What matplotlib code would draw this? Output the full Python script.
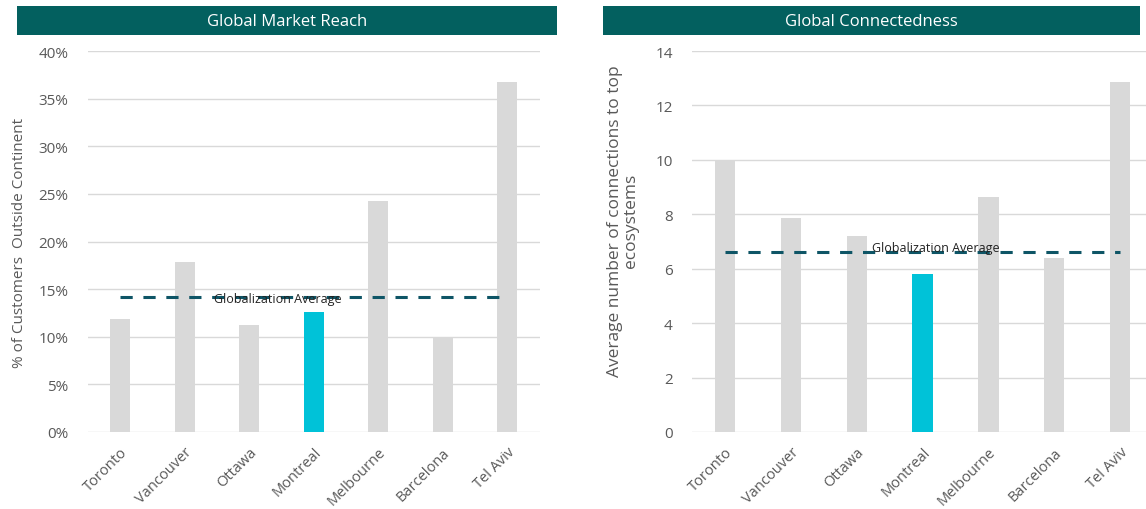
import matplotlib
matplotlib.use("Agg")
import matplotlib.pyplot as plt
from matplotlib.patches import Rectangle
from matplotlib.ticker import PercentFormatter

plt.rcParams['font.family'] = ['Open Sans', 'DejaVu Sans']

cities = ["Toronto", "Vancouver", "Ottawa", "Montreal", "Melbourne", "Barcelona", "Tel Aviv"]
reach = [11.9, 17.8, 11.2, 12.6, 24.3, 9.9, 36.7]  # % customers outside continent
reach_avg = 14.2
connect = [10.0, 7.85, 7.19, 5.81, 8.63, 6.38, 12.85]
connect_avg = 6.63

GRIS = "#d9d9d9"
CYAN = "#00c2d8"
TEAL = "#03605f"
LINEA = "#0e5566"
TXT = "#595959"

fig = plt.figure(figsize=(11.46, 5.1), dpi=100)

def panel(ax, vals, avg, ylim, yticks, titulo, rect):
    colores = [CYAN if c == "Montreal" else GRIS for c in cities]
    x = list(range(len(cities)))
    ax.bar(x, vals, width=0.31, color=colores, zorder=2)
    ax.plot([0, 6], [avg, avg], color=LINEA, lw=2.2, dashes=(4, 3.5), zorder=3)
    ax.set_xlim(-0.5, 6.5)
    ax.set_ylim(*ylim)
    ax.set_yticks(yticks)
    ax.grid(axis="y", color=GRIS, lw=1, zorder=0)
    for s in ax.spines.values():
        s.set_visible(False)
    ax.tick_params(length=0, colors=TXT, labelsize=11)
    ax.tick_params(axis="y", pad=14)
    ax.tick_params(axis="x", labelsize=10.5, pad=9)
    ax.set_xticks(x)
    ax.set_xticklabels(cities, rotation=45, ha="right", rotation_mode="anchor", color=TXT)
    fig.patches.append(Rectangle((rect[0], 0.929), rect[1], 0.057, transform=fig.transFigure,
                                 facecolor=TEAL, edgecolor="none"))
    fig.text(rect[0] + rect[1] / 2, 0.957, titulo, color="white", fontsize=12,
             ha="center", va="center")

ax1 = fig.add_axes([0.0768, 0.151, 0.394, 0.747])
panel(ax1, reach, reach_avg, (0, 40), range(0, 41, 5), "Global Market Reach", (0.0148, 0.471))
ax1.yaxis.set_major_formatter(PercentFormatter(decimals=0))
ax1.set_ylabel("% of Customers  Outside Continent", color=TXT, fontsize=11, labelpad=8)
ax1.text(2.45, reach_avg - 0.15, "Globalization Average", fontsize=9, ha="center", va="center",
         color="#222222", zorder=4)

ax2 = fig.add_axes([0.604, 0.151, 0.402, 0.747])
panel(ax2, connect, connect_avg, (0, 14), range(0, 15, 2), "Global Connectedness", (0.526, 0.469))
ax2.set_ylabel("Average number of connections to top\necosystems", color=TXT, fontsize=12.5,
               linespacing=1.0)
ax2.yaxis.set_label_coords(-0.115, 0.556)
ax2.text(3.2, connect_avg + 0.15, "Globalization Average", fontsize=9, ha="center", va="center",
         color="#222222", zorder=4)

fig.savefig("out.png", dpi=100)
